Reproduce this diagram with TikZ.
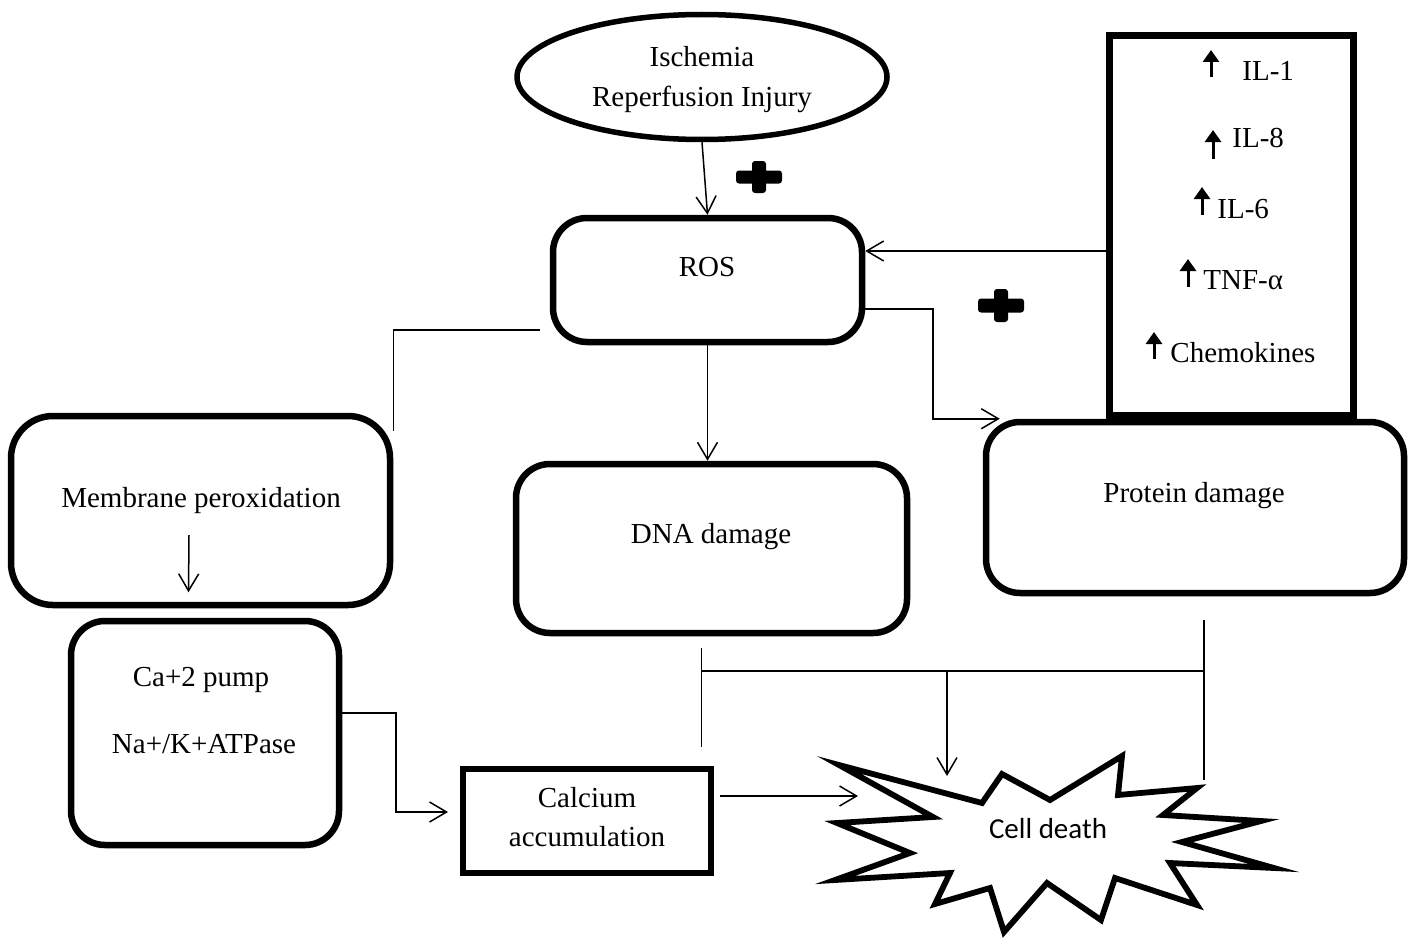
\documentclass[tikz,border=0pt]{standalone}
\usepackage{fontspec}
\setmainfont{Liberation Serif}
\newfontfamily\cellfont{Carlito}
\usetikzlibrary{arrows.meta,shapes.geometric}

\begin{document}
\begin{tikzpicture}[x=0.5pt, y=-0.5pt, draw=black,
	font=\fontsize{14.5}{17}\selectfont,
	rbox/.style={draw, line width=3.25pt, rounded corners=17pt, inner sep=0pt},
	sbox/.style={draw, line width=3.5pt, inner sep=0pt},
	txt/.style={inner sep=0pt, anchor=base},
	conn/.style={line width=0.75pt},
	arr/.style={conn, -{Straight Barb[length=8.5pt,width=10pt]}},
	uparr/.style={line width=1.5pt, -{Triangle[length=6pt,width=8pt]}},
	plusbar/.style={fill=black, rounded corners=1.5pt}]
	\useasboundingbox (0,0) rectangle (1411,947);
	% top
	\node[draw, ellipse, line width=2.75pt, minimum width=185pt, minimum height=62.5pt] (isch) at (702,77) {};
	\node[txt] (ischT1) at (702,67) {Ischemia};
	\node[txt] (ischT2) at (702,106) {Reperfusion Injury};
	\node[rbox, minimum width=154.5pt, minimum height=62pt] (ros) at (707.5,280) {};
	\node[txt] (rosT) at (707,276) {ROS};
	% middle row
	\node[rbox, rounded corners=21pt, minimum width=189.5pt, minimum height=94.5pt] (mem) at (200.5,510.5) {};
	\node[txt] (memT) at (201,507) {Membrane peroxidation};
	\node[rbox, minimum width=195.5pt, minimum height=84.5pt] (dna) at (711.5,548.5) {};
	\node[txt] (dnaT) at (711,543) {DNA damage};
	\node[rbox, minimum width=209pt, minimum height=85.5pt] (prot) at (1195,507.5) {};
	\node[txt] (protT) at (1194,502) {Protein damage};
	% cytokines
	\node[sbox, minimum width=122pt, minimum height=190pt] (cyto) at (1231.5,225.5) {};
	\node[txt, anchor=base west] (il1) at (1242,81) {IL-1};
	\node[txt, anchor=base west] (il8) at (1232,147) {IL-8};
	\node[txt, anchor=base west] (il6) at (1217,218) {IL-6};
	\node[txt, anchor=base west] (tnf) at (1203,289) {TNF-α};
	\node[txt, anchor=base west] (chem) at (1170,362) {Chemokines};
	\draw[uparr] ([xshift=-15.5pt,yshift=2pt]il1.base west) -- ++(0,-27);
	\draw[uparr] ([xshift=-9.5pt,yshift=-6pt]il8.base west) -- ++(0,-29);
	\draw[uparr] ([xshift=-7.5pt,yshift=1.5pt]il6.base west) -- ++(0,-28);
	\draw[uparr] ([xshift=-7.5pt,yshift=1pt]tnf.base west) -- ++(0,-28);
	\draw[uparr] ([xshift=-8pt,yshift=1.5pt]chem.base west) -- ++(0,-27);
	% bottom row
	\node[rbox, minimum width=134pt, minimum height=112pt] (ca) at (205,733) {};
	\node[txt] (caT1) at (201,686) {Ca+2 pump};
	\node[txt] (caT2) at (204,753) {Na+/K+ATPase};
	\node[sbox, line width=3pt, minimum width=124pt, minimum height=52pt] (calc) at (587,821) {};
	\node[txt] (calcT1) at (587,807) {Calcium};
	\node[txt] (calcT2) at (587,846) {accumulation};
	\draw[line width=2.9pt] (839,765) -- (982,803) -- (1002,774) -- (1050,800) -- (1122,756) -- (1118,795)
		-- (1197,788) -- (1163,815) -- (1261,821) -- (1182,842) -- (1274,868) -- (1170,863)
		-- (1197,905) -- (1115,878) -- (1101,920) -- (1047,883) -- (1004,932) -- (990,888)
		-- (935,904) -- (950,873) -- (835,880) -- (910,853) -- (837,823) -- (933,817) -- cycle;
	\node[txt, font=\cellfont\fontsize{14.5}{17}\selectfont] (death) at (1048,838) {Cell death};
	% plus signs
	\fill[plusbar] (752,161) rectangle (766,193);
	\fill[plusbar] (736,170.5) rectangle (782,183.5);
	\fill[plusbar] (994,289) rectangle (1008,322);
	\fill[plusbar] (978,298.5) rectangle (1024,312.5);
	% connectors
	\coordinate (bendR) at (933,0);
	\coordinate (bendL) at (396,812);
	\coordinate (deathL) at (858,796);
	\coordinate (deathT) at (947,776);
	\coordinate (dnaOut) at ([xshift=-5pt,yshift=-6pt]dna.south);
	\coordinate (protOut) at ([xshift=4.5pt,yshift=-12pt]prot.south);
	\coordinate (jM) at (947,671);
	\draw[arr] (isch.south) -- (ros.north);
	\draw[arr] ([yshift=-12.75pt]cyto.west) -- ([yshift=-12.75pt]cyto.west -| ros.east);
	\draw[arr] ([yshift=-14.5pt]ros.east) -| (bendR |- prot.north west) -- ([xshift=8.5pt]prot.north west);
	\draw[conn] ([xshift=-5pt,yshift=-25pt]ros.west) -| ([yshift=-9pt]mem.north east);
	\draw[arr] (ros.south) -- (ros.south |- dna.north);
	\draw[arr] ([xshift=-6pt,yshift=-14pt]memT.base) -- ([xshift=-6pt,yshift=8pt]mem.south);
	\draw[arr, shorten >=6pt] ([yshift=10pt]ca.east) -| (bendL) -- (bendL -| calc.west);
	\draw[arr] ([xshift=3pt,yshift=12.5pt]calc.east) -- (deathL);
	\draw[conn] (dnaOut) -- ++(0,99);
	\draw[conn] (protOut) -- ++(0,160);
	\draw[conn, line width=1pt] (dnaOut |- jM) -- (protOut |- jM);
	\draw[arr] (jM) -- (deathT);
\end{tikzpicture}
\end{document}
